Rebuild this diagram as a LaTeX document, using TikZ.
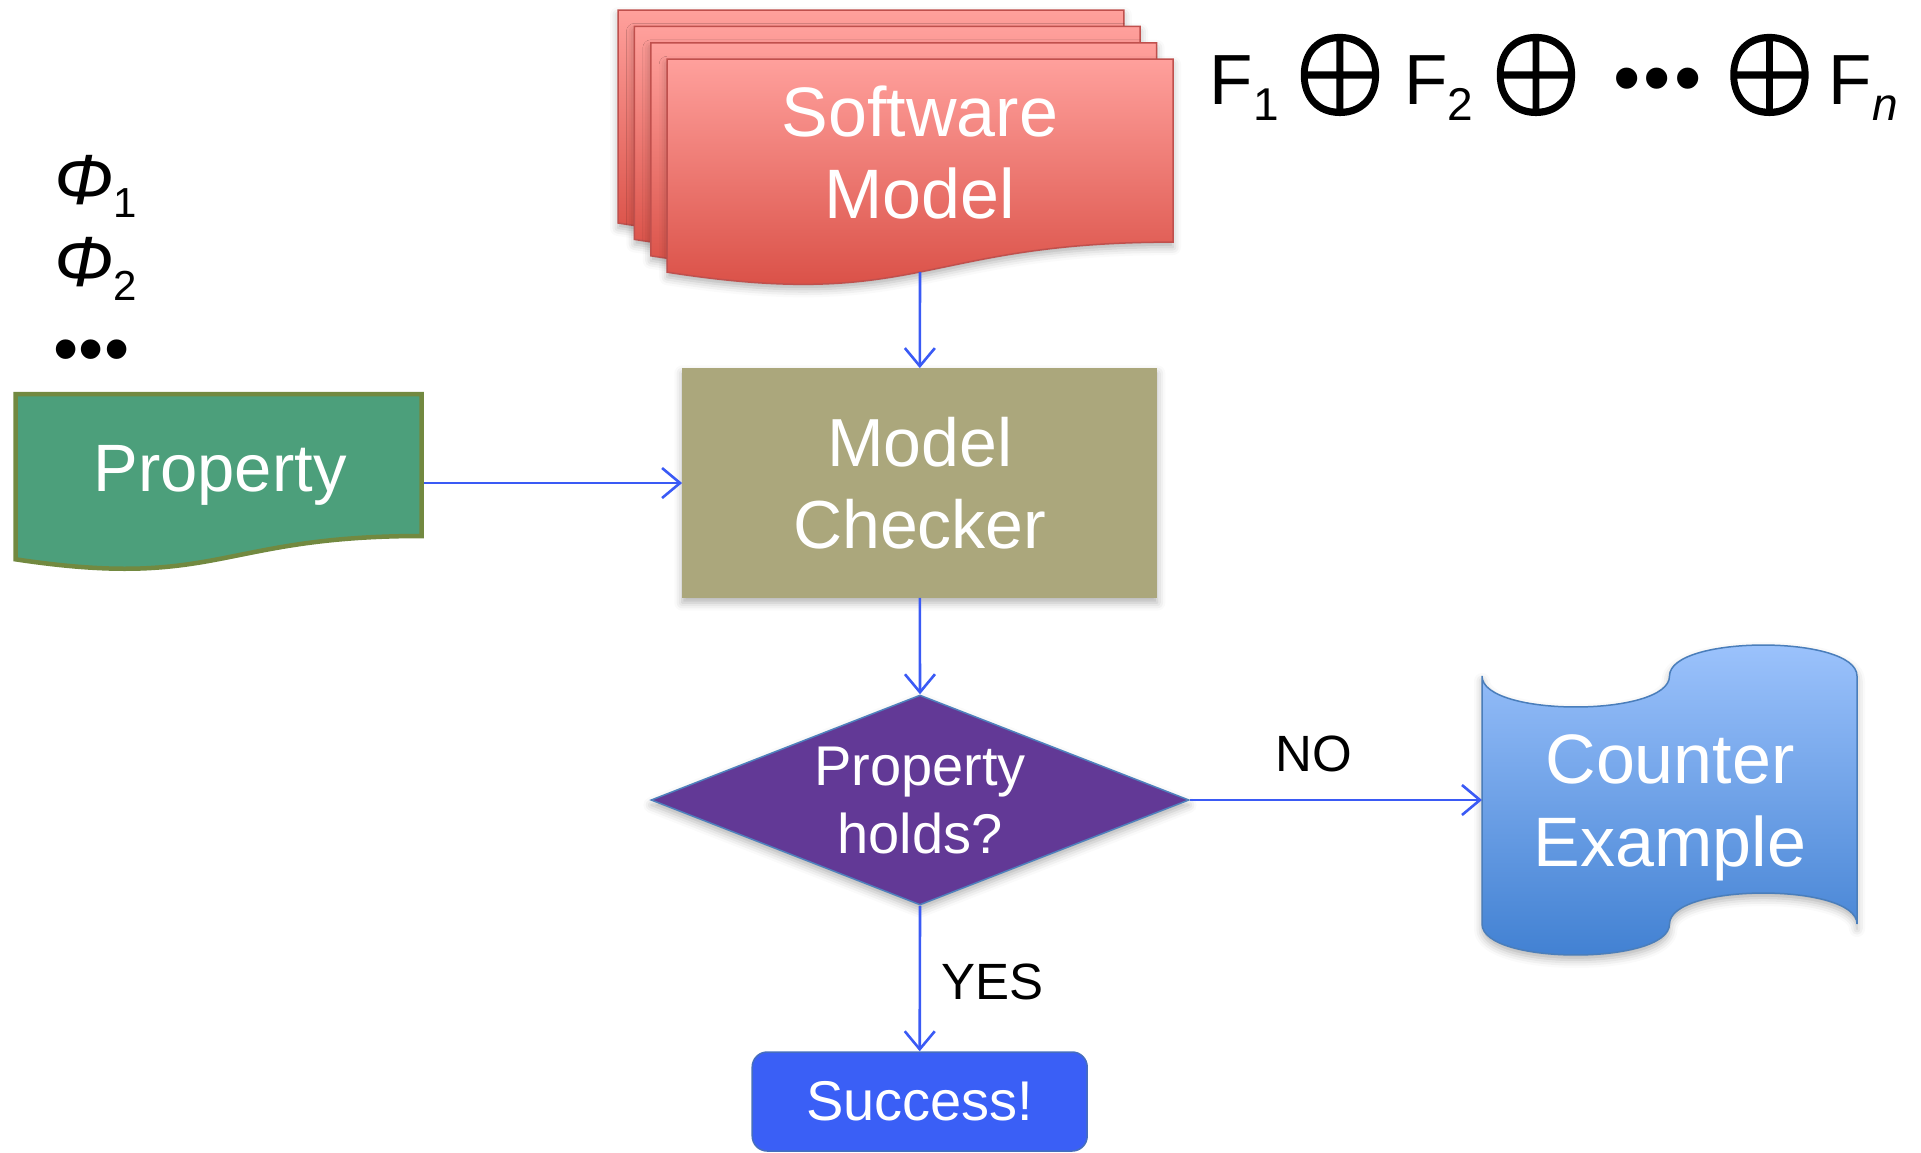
\documentclass[tikz,border=0pt]{standalone}
\usepackage{graphicx}
\usepackage{fontspec}
\setmainfont{Liberation Sans}
\usetikzlibrary{arrows.meta,shapes.geometric,shadows.blur}
\definecolor{arrowblue}{RGB}{58,90,245}
\definecolor{mcfill}{RGB}{171,167,124}
\definecolor{dfill}{RGB}{98,57,150}
\definecolor{dborder}{RGB}{79,129,189}
\definecolor{sfill}{RGB}{58,95,246}
\definecolor{sborder}{RGB}{70,110,190}
\definecolor{pfill}{RGB}{76,159,123}
\definecolor{pborder}{RGB}{114,137,64}
\definecolor{ctop}{RGB}{158,196,253}
\definecolor{cbot}{RGB}{63,127,209}
\definecolor{cborder}{RGB}{74,126,187}
\definecolor{rtop}{RGB}{255,160,156}
\definecolor{rbot}{RGB}{214,72,62}
\definecolor{rborder}{RGB}{192,80,77}
\newcommand{\myoplus}{\resizebox*{89pt}{80pt}{\special{pdf:literal direct 2 Tr 0.22 w}\boldmath$\oplus$\special{pdf:literal direct 0 Tr}}}
\tikzset{
  arr/.style={draw=arrowblue, line width=2.6pt, -{Straight Barb[length=18pt,width=30pt]}},
  lbl/.style={text=black, inner sep=0, font=\fontsize{51}{51}\selectfont},
  wtxt/.style={text=white, inner sep=0, align=center},
  shad/.style={blur shadow={shadow xshift=0pt,shadow yshift=-5pt,shadow blur radius=8pt,shadow opacity=30}},
  sheet/.style={top color=rtop, bottom color=rbot, draw=rborder, line width=1.5pt, shad},
  eq/.style={inner sep=0, anchor=base west, font=\fontsize{71}{71}\selectfont},
}
\begin{document}
\begin{tikzpicture}[x=1pt,y=-1pt]
\useasboundingbox (0,0) rectangle (1921,1152);

% Software model stack
\path[sheet] (618,10) -- (1123.8,10) -- (1123.8,192.9) .. controls (870.9,192.9) and (870.9,262.5) .. (618,223) -- cycle;
\path[sheet] (634.4,26.4) -- (1140.2,26.4) -- (1140.2,209.3) .. controls (887.3,209.3) and (887.3,278.9) .. (634.4,239.4) -- cycle;
\path[sheet] (650.8,42.8) -- (1156.6,42.8) -- (1156.6,225.7) .. controls (903.7,225.7) and (903.7,295.3) .. (650.8,255.8) -- cycle;
\path[sheet] (667.2,59.2) -- (1173,59.2) -- (1173,242.1) .. controls (920.1,242.1) and (920.1,311.7) .. (667.2,272.2) -- cycle;
\node[wtxt, font=\fontsize{70}{81.6}\selectfont] (sw) at (920,152.3) {Software\\Model};
\coordinate (swb) at (920,272.1);

% equation
\node[eq] (f1) at (1209.6,104) {F\raisebox{-16pt}{\fontsize{46}{46}\selectfont 1}};
\node[inner sep=0] (op1) at (1340,75) {\myoplus};
\node[eq] (f2) at (1404.2,104) {F\raisebox{-16pt}{\fontsize{46}{46}\selectfont 2}};
\node[inner sep=0] (op2) at (1536,75) {\myoplus};
\node[eq, font=\fontsize{78}{78}\selectfont] (dots) at (1613,104) {•\kern3.4pt•\kern3.4pt•};
\node[inner sep=0] (op3) at (1769.5,75) {\myoplus};
\node[eq] (fn) at (1828.7,104) {F\raisebox{-16pt}{\fontsize{46}{46}\selectfont\itshape n}};

% phi list
\node[eq] (phi1) at (54,204) {\textit{Φ}\raisebox{-13pt}{\fontsize{42}{42}\selectfont 1}};
\node[eq] (phi2) at (54,286) {\textit{Φ}\raisebox{-14pt}{\fontsize{42}{42}\selectfont 2}};
\node[eq, font=\fontsize{72}{72}\selectfont] (phid) at (53.4,373) {•••};

% property document
\path[fill=pfill, draw=pborder, line width=4.5pt] (15.5,394) -- (421.5,394) -- (421.5,536) .. controls (218.5,536) and (218.5,590) .. (15.5,559.3) -- cycle;
\node[inner sep=0, anchor=base, text=white, font=\fontsize{67}{67}\selectfont] (prop) at (220,491) {Property};
\coordinate (pR) at (424,483);

% model checker
\node[fill=mcfill, minimum width=475, minimum height=229.4, inner sep=0, shad, wtxt, font=\fontsize{68}{82}\selectfont] (mc) at (919.8,483) {Model\\Checker};

% decision
\node[diamond, aspect=2.56, minimum width=538, minimum height=210, inner sep=0, fill=dfill, draw=dborder, line width=1.5pt, shad, wtxt, font=\fontsize{56}{68}\selectfont] (dec) at (920,800) {Property\\holds?};

% success
\node[rounded corners=15pt, fill=sfill, draw=sborder, line width=1.5pt, minimum width=335, minimum height=99, inner sep=0, wtxt, font=\fontsize{56}{56}\selectfont] (succ) at (919.7,1101.5) {Success!};

% counter example
\path[top color=ctop, bottom color=cbot, draw=cborder, line width=1.5pt, shad] (1482,676) .. controls (1482,717.3) and (1669.5,717.3) .. (1669.5,676) .. controls (1669.5,634.7) and (1857,634.7) .. (1857,676) -- (1857,924) .. controls (1857,882.7) and (1669.5,882.7) .. (1669.5,924) .. controls (1669.5,965.3) and (1482,965.3) .. (1482,924) -- cycle;
\node[wtxt, font=\fontsize{70}{83}\selectfont] (ce) at (1670,808.3) {Counter\\Example};
\coordinate (cL) at (1482,800);

% connectors
\draw[arr] (swb) -- (mc.north);
\draw[arr] (pR) -- (mc.west);
\draw[arr] (mc.south) -- (dec.north);
\draw[arr] (dec.east) -- (cL);
\draw[arr] (dec.south) -- (succ.north);
\node[lbl, anchor=base] (no) at (1313.5,771.7) {NO};
\node[lbl, anchor=base west] (yes) at (941,999) {YES};
\end{tikzpicture}
\end{document}
